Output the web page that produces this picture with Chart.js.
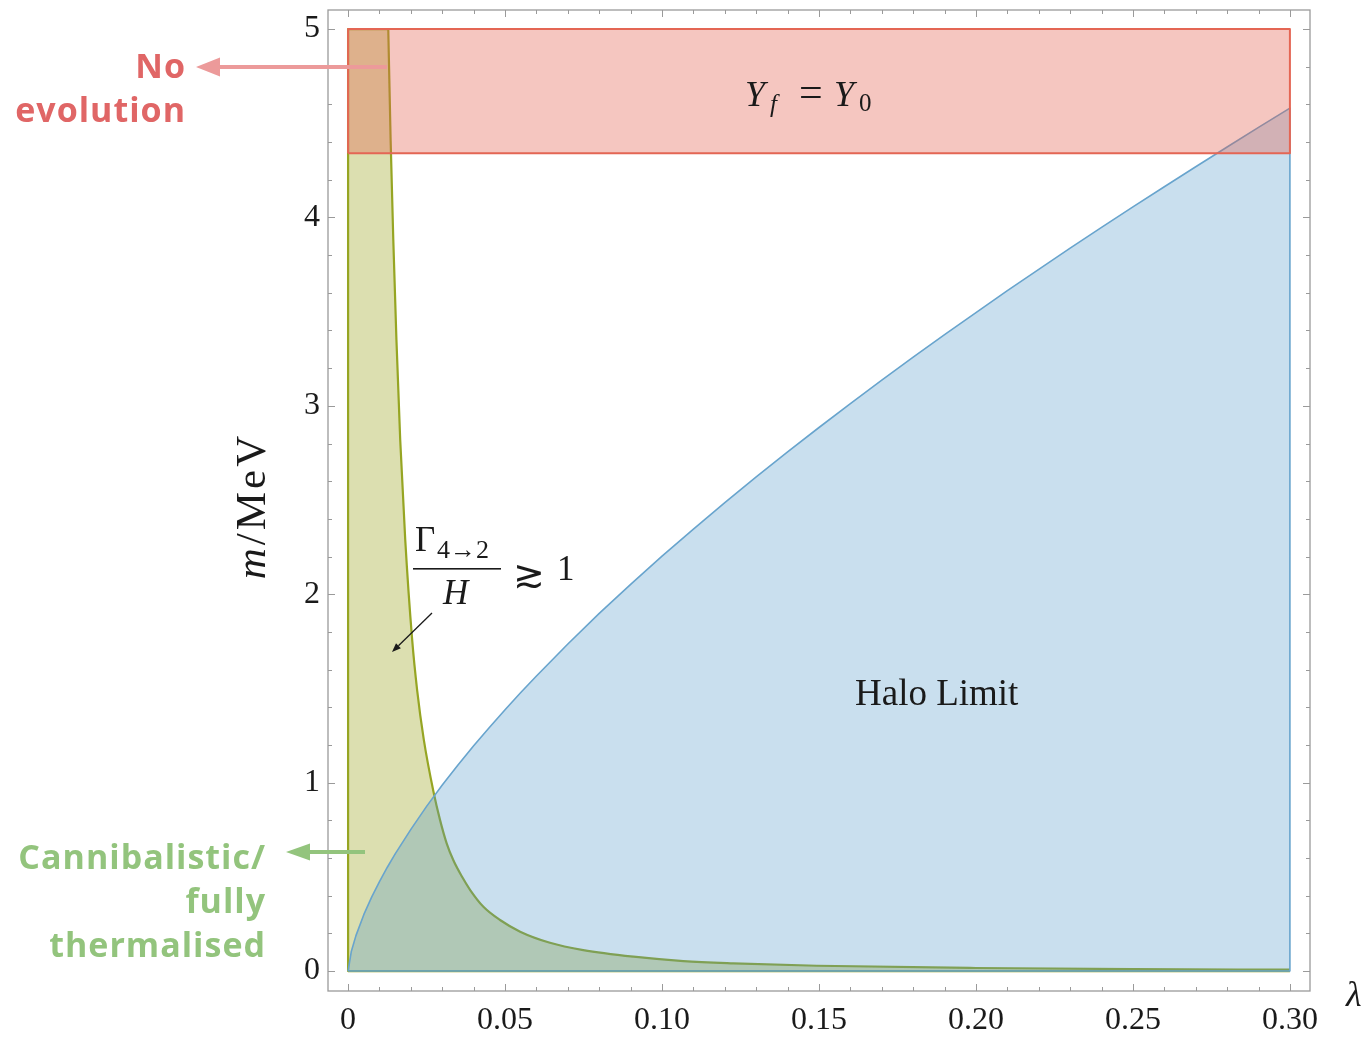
<!DOCTYPE html>
<html>
<head>
<meta charset="utf-8">
<script src="https://cdn.jsdelivr.net/npm/chart.js@4.4.1/dist/chart.umd.min.js"></script>
<style>
  html, body { margin: 0; padding: 0; background: #fff; }
  #wrap { width: 1368px; height: 1039px; }
</style>
</head>
<body>
<div id="wrap"><canvas id="chart" width="1368" height="1039"></canvas></div>
<script>
// axis ticks
const lambdaTicks = [0, 0.05, 0.10, 0.15, 0.20, 0.25, 0.30];
const lambdaLabels = ['0', '0.05', '0.10', '0.15', '0.20', '0.25', '0.30'];
const massTicks = [0, 1, 2, 3, 4, 5];
const massLabels = ['0', '1', '2', '3', '4', '5'];

// halo limit boundary m(λ)
const haloLambda = [0, 0.001, 0.0025, 0.005, 0.0075, 0.01, 0.0125, 0.015, 0.02, 0.025, 0.03, 0.035, 0.04, 0.045, 0.05, 0.055, 0.06, 0.07, 0.08, 0.09, 0.10, 0.11, 0.12, 0.13, 0.14, 0.15, 0.16, 0.17, 0.18, 0.19, 0.20, 0.21, 0.22, 0.23, 0.24, 0.25, 0.26, 0.27, 0.28, 0.29, 0.30];
const haloMass = [0, 0.102, 0.188, 0.299, 0.392, 0.474, 0.551, 0.622, 0.752, 0.874, 0.987, 1.094, 1.196, 1.293, 1.387, 1.478, 1.566, 1.736, 1.898, 2.052, 2.202, 2.346, 2.486, 2.623, 2.756, 2.885, 3.012, 3.136, 3.258, 3.378, 3.495, 3.611, 3.724, 3.837, 3.947, 4.056, 4.163, 4.269, 4.374, 4.478, 4.58];

// Γ(4→2)/H = 1 contour
const thermLambda = [0.0128, 0.01355, 0.0144, 0.0154, 0.0166, 0.0182, 0.0204, 0.0220, 0.0241, 0.0272, 0.0293, 0.0314, 0.0335, 0.0363, 0.0389, 0.0431, 0.0484, 0.0548, 0.0643, 0.0749, 0.0909, 0.1068, 0.1227, 0.1493, 0.20, 0.25, 0.30];
const thermMass = [5.0, 4.41, 3.88, 3.35, 2.82, 2.29, 1.76, 1.49, 1.23, 0.952, 0.801, 0.678, 0.589, 0.500, 0.430, 0.341, 0.271, 0.209, 0.150, 0.111, 0.076, 0.053, 0.041, 0.028, 0.016, 0.010, 0.007];

// Y_f = Y_0 band
const bandLambda = [0, 0.30];
const bandMass = [4.34, 5.0];

const SERIF = '"Liberation Serif", "DejaVu Serif", serif';
const SANS = '"Open Sans", "Lato", sans-serif';

const GREEN_LINE = 'rgb(150,165,35)';
const GREEN_FILL = 'rgba(155,164,29,0.35)';

function zip(xs, ys) { return xs.map((x, i) => ({ x: x, y: ys[i] })); }

const haloShape = [...zip(haloLambda, haloMass), { x: 0.30, y: 0 }, { x: 0, y: 0 }];
const thermCurve = zip(thermLambda, thermMass);
const thermShape = [{ x: 0, y: 0 }, { x: 0, y: 5 }, ...thermCurve, { x: 0.30, y: 0 }, { x: 0, y: 0 }];
const thermEdges = [{ x: 0.30, y: 0 }, { x: 0, y: 0 }, { x: 0, y: 5 }, thermCurve[0]];
const bandShape = [
  { x: bandLambda[0], y: bandMass[0] }, { x: bandLambda[0], y: bandMass[1] },
  { x: bandLambda[1], y: bandMass[1] }, { x: bandLambda[1], y: bandMass[0] },
  { x: bandLambda[0], y: bandMass[0] }
];

function region(data, line, fill, width) {
  return {
    data: data, showLine: true, fill: 'shape', tension: 0,
    borderColor: line, backgroundColor: fill, borderWidth: width,
    borderJoinStyle: 'round', pointRadius: 0, pointHoverRadius: 0
  };
}

function edge(data, color, width, smooth) {
  return {
    data: data, showLine: true, fill: false, tension: 0,
    cubicInterpolationMode: smooth ? 'monotone' : 'default',
    borderColor: color, borderWidth: width, borderJoinStyle: 'round',
    pointRadius: 0, pointHoverRadius: 0
  };
}

// sequence of text pieces with their own fonts and offsets
function drawRuns(ctx, x, y, parts) {
  let cx = x;
  for (const p of parts) {
    ctx.font = p[1];
    ctx.fillText(p[0], cx, y + (p[2] || 0));
    cx += ctx.measureText(p[0]).width;
  }
  return cx;
}

function arrow(ctx, x1, y1, x2, y2, color, width, headLen, headHalf) {
  const ang = Math.atan2(y2 - y1, x2 - x1);
  const bx = x2 - headLen * Math.cos(ang), by = y2 - headLen * Math.sin(ang);
  ctx.strokeStyle = color; ctx.fillStyle = color; ctx.lineWidth = width;
  ctx.beginPath(); ctx.moveTo(x1, y1); ctx.lineTo(bx, by); ctx.stroke();
  ctx.beginPath();
  ctx.moveTo(x2, y2);
  ctx.lineTo(bx + headHalf * Math.sin(ang), by - headHalf * Math.cos(ang));
  ctx.lineTo(bx - headHalf * Math.sin(ang), by + headHalf * Math.cos(ang));
  ctx.closePath(); ctx.fill();
}

const decor = {
  id: 'decor',
  afterDraw(chart) {
    const { ctx, chartArea: a, scales: { x, y } } = chart;
    ctx.save();

    // frame with inward ticks on all four sides
    ctx.strokeStyle = '#9a9a9a';
    ctx.lineWidth = 1.3;
    ctx.strokeRect(a.left, a.top, a.right - a.left, a.bottom - a.top);
    ctx.lineWidth = 1;
    ctx.beginPath();
    for (let k = 0; k <= 30; k++) {
      const px = Math.round(x.getPixelForValue(k / 100)) + 0.5;
      const len = k % 5 === 0 ? 7 : 4;
      ctx.moveTo(px, a.bottom); ctx.lineTo(px, a.bottom - len);
      ctx.moveTo(px, a.top); ctx.lineTo(px, a.top + len);
    }
    for (let k = 0; k <= 25; k++) {
      const py = Math.round(y.getPixelForValue(k / 5)) + 0.5;
      const len = k % 5 === 0 ? 7 : 4;
      ctx.moveTo(a.left, py); ctx.lineTo(a.left + len, py);
      ctx.moveTo(a.right, py); ctx.lineTo(a.right - len, py);
    }
    ctx.stroke();

    // math labels inside the plot
    ctx.fillStyle = '#1a1a1a';
    ctx.textBaseline = 'alphabetic';
    ctx.textAlign = 'left';
    drawRuns(ctx, 745, 106, [['Y', 'italic 36px ' + SERIF]]);
    drawRuns(ctx, 770, 106, [['f', 'italic 25px ' + SERIF, 6]]);
    drawRuns(ctx, 799, 106, [['=', '42px ' + SERIF]]);
    drawRuns(ctx, 834, 106, [['Y', 'italic 36px ' + SERIF]]);
    drawRuns(ctx, 859, 106, [['0', '25px ' + SERIF, 5]]);

    drawRuns(ctx, 415, 551, [['Γ', '35px ' + SERIF]]);
    drawRuns(ctx, 437, 558, [['4', '26px ' + SERIF], ['→', '26px ' + SERIF], ['2', '26px ' + SERIF]]);
    ctx.fillRect(413, 568, 88, 1.6);
    drawRuns(ctx, 443, 604, [['H', 'italic 35px ' + SERIF]]);
    drawRuns(ctx, 513, 587, [['≳', '38px "DejaVu Serif", serif']]);
    drawRuns(ctx, 557, 580, [['1', '35px ' + SERIF]]);
    arrow(ctx, 432, 613, 392, 652, '#1a1a1a', 1.3, 9, 3.5);

    drawRuns(ctx, 855, 705, [['Halo Limit', '37px ' + SERIF]]);
    drawRuns(ctx, 1346, 1006, [['λ', 'italic 36px ' + SERIF]]);

    // vertical axis title m/MeV
    ctx.save();
    ctx.translate(265, 506);
    ctx.rotate(-Math.PI / 2);
    ctx.letterSpacing = '3px';
    ctx.font = 'italic 43px ' + SERIF;
    const w1 = ctx.measureText('m').width;
    ctx.font = '43px ' + SERIF;
    const w2 = ctx.measureText('/MeV').width;
    drawRuns(ctx, -(w1 + w2) / 2, 0, [['m', 'italic 43px ' + SERIF], ['/MeV', '43px ' + SERIF]]);
    ctx.letterSpacing = '0px';
    ctx.restore();

    // side notes
    ctx.textAlign = 'right';
    ctx.font = 'bold 34px ' + SANS;
    ctx.letterSpacing = '1px';
    ctx.fillStyle = '#e06666';
    ctx.fillText('No', 186, 78);
    ctx.fillText('evolution', 186, 122);
    ctx.fillStyle = '#93c47d';
    ctx.fillText('Cannibalistic/', 266, 869);
    ctx.fillText('fully', 266, 913);
    ctx.fillText('thermalised', 266, 957);
    ctx.letterSpacing = '0px';
    arrow(ctx, 387, 67, 196, 67, '#ec9a9a', 4, 24, 9.5);
    arrow(ctx, 365, 852, 286, 852, '#93c47d', 4, 24, 8.5);

    ctx.restore();
  }
};

// later datasets are painted first: green, then blue, then the red band on top
new Chart(document.getElementById('chart'), {
  type: 'scatter',
  data: {
    datasets: [
      region(bandShape, 'rgb(228,102,84)', 'rgba(226,92,75,0.35)', 2),
      region(haloShape, 'rgb(104,164,205)', 'rgba(75,148,198,0.3)', 1.6),
      edge(thermCurve, GREEN_LINE, 2.2, true),
      edge(thermEdges, GREEN_LINE, 2.2, false),
      region(thermShape, GREEN_LINE, GREEN_FILL, 0)
    ]
  },
  options: {
    responsive: false,
    animation: false,
    layout: { padding: { top: 10, right: 58, left: 0, bottom: 0 } },
    plugins: { legend: { display: false }, tooltip: { enabled: false } },
    scales: {
      x: {
        type: 'linear', min: -0.0064, max: 0.3064,
        grid: { display: false, drawTicks: false }, border: { display: false },
        afterFit: s => { s.height = 48; s.paddingLeft = 0; s.paddingRight = 0; },
        afterBuildTicks: s => { s.ticks = lambdaTicks.map(v => ({ value: v })); },
        ticks: {
          callback: (v, i) => lambdaLabels[i],
          font: { family: SERIF, size: 32 }, color: '#1a1a1a',
          padding: 10, maxRotation: 0, autoSkip: false
        }
      },
      y: {
        type: 'linear', min: -0.106, max: 5.101,
        grid: { display: false, drawTicks: false }, border: { display: false },
        afterFit: s => { s.width = 328; s.paddingTop = 0; s.paddingBottom = 0; },
        afterBuildTicks: s => { s.ticks = massTicks.map(v => ({ value: v })); },
        ticks: {
          callback: (v, i) => massLabels[i],
          font: { family: SERIF, size: 32 }, color: '#1a1a1a',
          padding: 8, autoSkip: false
        }
      }
    }
  },
  plugins: [decor]
});
</script>
</body>
</html>
